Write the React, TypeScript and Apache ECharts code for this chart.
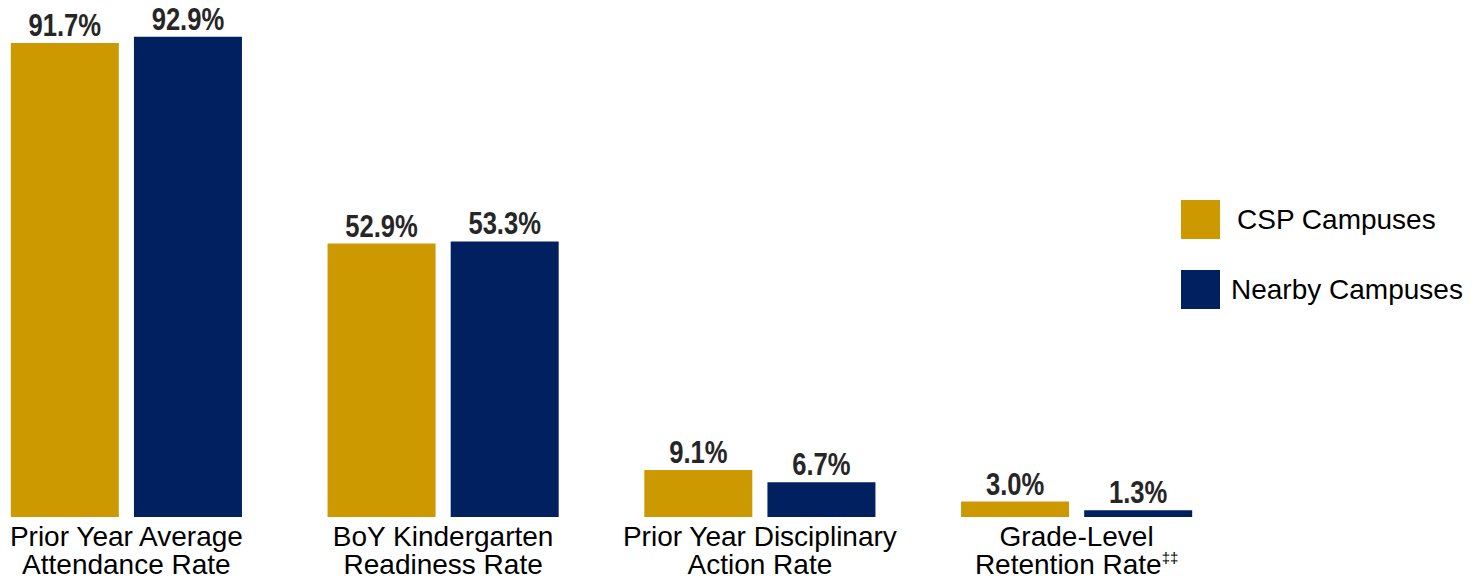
import React, { useEffect, useRef } from "react";
import * as echarts from "echarts";

const categories = [
  "Prior Year Average\nAttendance Rate",
  "BoY Kindergarten\nReadiness Rate",
  "Prior Year Disciplinary\nAction Rate",
  "Grade-Level\nRetention Rate{sup|‡‡}",
];
const cspValues = [91.7, 52.9, 9.1, 3.0];
const nearbyValues = [92.9, 53.3, 6.7, 1.3];
const seriesNames = ["CSP Campuses", "Nearby Campuses"];

const GOLD = "#CC9900";
const NAVY = "#002060";
const SHIFT = 32;
const BAR_W = 108;
const BAR_GAP = 0.14;

export default function App() {
  const ref = useRef<HTMLDivElement>(null);
  useEffect(() => {
    if (!ref.current) return;
    const chart = echarts.init(ref.current, undefined, { renderer: "svg" });

    const labelData: number[][] = [];
    cspValues.forEach((v, i) => labelData.push([i, v, 0]));
    nearbyValues.forEach((v, i) => labelData.push([i, v, 1]));

    chart.setOption({
      animation: false,
      grid: { left: 0, width: 1267, top: 0, bottom: 62, containLabel: false },
      legend: {
        orient: "vertical",
        left: 1181 + SHIFT,
        top: 200,
        itemWidth: 39,
        itemHeight: 39,
        itemGap: 31,
        icon: "rect",
        padding: 0,
        textStyle: {
          fontFamily: "'Liberation Sans', Arial, sans-serif",
          fontSize: 28,
          color: "#000",
        },
        data: [
          { name: seriesNames[0], textStyle: { padding: [0, 0, 0, 12] } },
          { name: seriesNames[1], textStyle: { padding: [0, 0, 0, 6] } },
        ],
      },
      xAxis: {
        type: "category",
        data: categories,
        axisLine: { show: false },
        axisTick: { show: false },
        axisLabel: {
          interval: 0,
          margin: 5,
          fontFamily: "'Liberation Sans', Arial, sans-serif",
          fontSize: 28,
          lineHeight: 28,
          color: "#000",
          verticalAlign: "top",
          rich: {
            sup: {
              fontFamily: "'Liberation Sans', Arial, sans-serif",
              fontSize: 15,
              verticalAlign: "top",
              lineHeight: 28,
              padding: [0, 0, 12, 0],
              color: "#000",
            },
          },
        },
      },
      yAxis: {
        type: "value",
        min: 0,
        max: 100,
        show: false,
        splitLine: { show: false },
      },
      series: [
        {
          name: seriesNames[0],
          type: "bar",
          data: cspValues,
          barWidth: BAR_W,
          barGap: BAR_GAP * 100 + "%",
          itemStyle: { color: GOLD },
        },
        {
          name: seriesNames[1],
          type: "bar",
          data: nearbyValues,
          barWidth: BAR_W,
          barGap: BAR_GAP * 100 + "%",
          itemStyle: { color: NAVY },
        },
        {
          type: "custom",
          data: labelData,
          encode: { x: 0, y: 1 },
          silent: true,
          clip: false,
          renderItem: (params: any, api: any) => {
            const cat = api.value(0);
            const val = api.value(1);
            const s = api.value(2);
            const pt = api.coord([cat, val]);
            const off = (BAR_W + BAR_W * BAR_GAP) / 2;
            const x = pt[0] + (s === 0 ? -off : off);
            return {
              type: "text",
              x,
              y: pt[1] - 2,
              scaleX: 0.8,
              style: {
                text: Number(val).toFixed(1) + "%",
                fontFamily: "'Liberation Sans', Arial, sans-serif",
                fontWeight: "bold",
                fontSize: 32,
                fill: "#262626",
                align: "center",
                verticalAlign: "bottom",
              },
            };
          },
        },
      ],
    });
    return () => chart.dispose();
  }, []);
  return (
    <div
      ref={ref}
      style={{ position: "absolute", left: -SHIFT, top: 0, width: 1481 + SHIFT, height: 579, background: "#fff" }}
    />
  );
}
